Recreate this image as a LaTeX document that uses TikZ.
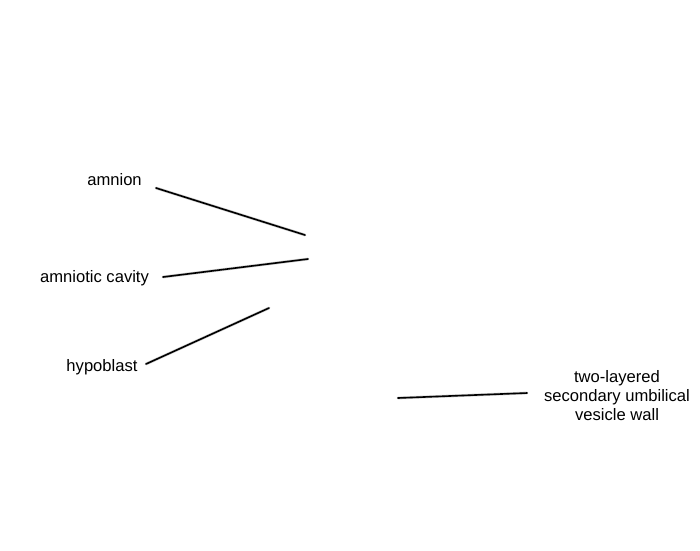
\documentclass[tikz,border=0pt]{standalone}
\usepackage{fontspec}
\setmainfont{Liberation Sans}
\begin{document}
\begin{tikzpicture}[x=1pt,y=-1pt,
  lbl/.style={inner sep=0pt,font=\fontsize{16.6}{19}\selectfont,align=center},
  leader/.style={line width=1.6pt,black,line cap=round}]
\useasboundingbox (0,0) rectangle (700,550);
\node[lbl] (amnion) at (114.5,180) {amnion};
\node[lbl] (cavity) at (94.5,278) {amniotic cavity};
\node[lbl] (hypo) at (102,367) {hypoblast};
\node[lbl] (wall) at (617,396) {two-layered\\secondary umbilical\\vesicle wall};
\coordinate (a1) at (156,188);
\coordinate (a2) at (305,235);
\coordinate (c1) at (163,277);
\coordinate (c2) at (308,259);
\coordinate (h1) at (146,364);
\coordinate (h2) at (269,308);
\coordinate (w1) at (527,393);
\coordinate (w2) at (398,398);
\foreach \p/\q in {a1/a2,c1/c2,h1/h2,w1/w2}{
  \draw[line width=2.8pt,black!20,line cap=round] (\p) -- (\q);
  \draw[leader] (\p) -- (\q);
}
\end{tikzpicture}
\end{document}
